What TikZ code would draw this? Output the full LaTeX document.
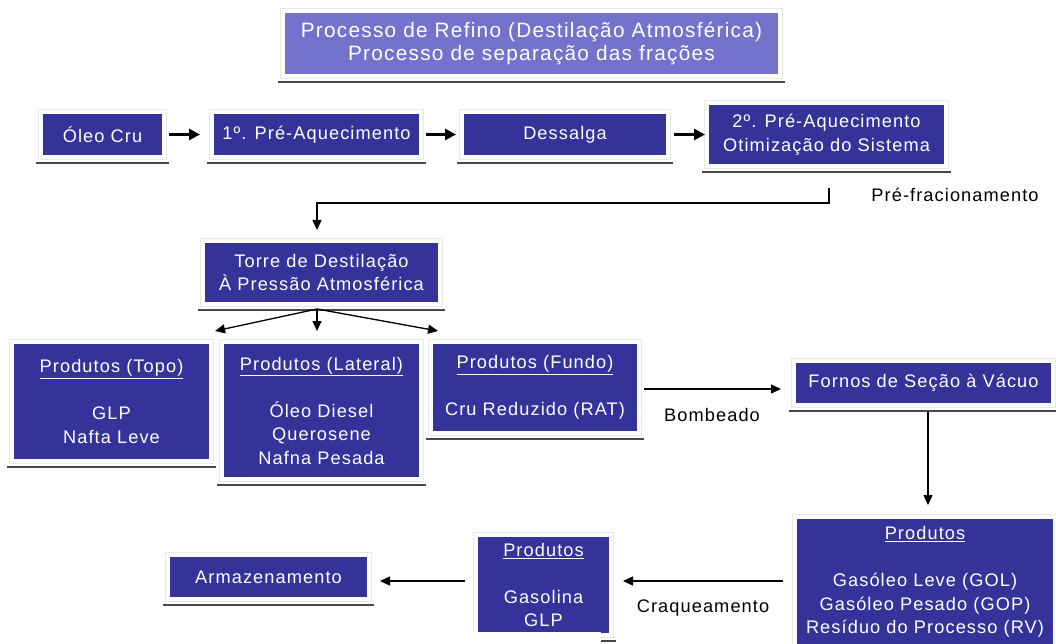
\documentclass[tikz,border=0pt]{standalone}
\usepackage{fontspec}
\setmainfont{Liberation Sans}[LetterSpace=6]
\usetikzlibrary{arrows.meta}
\definecolor{boxblue}{HTML}{333399}
\definecolor{titleblue}{HTML}{7373CC}
\definecolor{shadowgray}{HTML}{484848}
\begin{document}
\begin{tikzpicture}[x=1pt,y=-1pt,
  bx/.style={fill=boxblue, draw=white, line width=4pt,
    preaction={draw=gray!18, line width=5.2pt},
    text=white, align=center, inner sep=0pt,
    font=\fontsize{18.2}{23.5}\selectfont},
  titlebox/.style={bx, fill=titleblue, font=\fontsize{20.8}{22.5}\selectfont},
  lbl/.style={text=black, inner sep=0pt, font=\fontsize{18.2}{23.5}\selectfont},
  shad/.style={draw=shadowgray, line width=2.5pt},
  thickarr/.style={line width=2.7pt, -{Triangle[length=11pt,width=11pt]}},
  thinarr/.style={line width=1.3pt, -{Triangle[length=10pt,width=9pt]}}
]
\useasboundingbox (0,0) rectangle (1056,644);
\clip (0,0) rectangle (1056,644);
\fill[white] (0,0) rectangle (1056,644);

% boxes
\node[titlebox, minimum width=497pt, minimum height=65pt] (title) at (531.5,43.5)
  {Processo de Refino (Destilação Atmosférica)\\Processo de separação das frações};
\node[bx, minimum width=123pt, minimum height=45pt] (oleo) at (102.5,134.5) {Óleo Cru};
\node[bx, minimum width=209pt, minimum height=45pt] (pre1) at (316.5,134.5) {1º. Pré-Aquecimento};
\node[bx, minimum width=206pt, minimum height=45pt] (dess) at (565,134.5) {Dessalga};
\node[bx, minimum width=239pt, minimum height=63pt] (pre2) at (826.5,134.5) {2º. Pré-Aquecimento\\Otimização do Sistema};
\node[bx, minimum width=237pt, minimum height=63pt] (torre) at (321.5,272.5) {Torre de Destilação\\À Pressão Atmosférica};
\node[bx, minimum width=199pt, minimum height=119pt] (topo) at (111.5,401.5)
  {\underline{Produtos (Topo)}\\[23.5pt]GLP\\Nafta Leve};
\node[bx, minimum width=199pt, minimum height=137pt] (lat) at (321.5,410.5)
  {\underline{Produtos (Lateral)}\\[23.5pt]Óleo Diesel\\Querosene\\Nafna Pesada};
\node[bx, minimum width=208pt, minimum height=91pt] (fundo) at (535,387.5)
  {\underline{Produtos (Fundo)}\\[23.5pt]Cru Reduzido (RAT)};
\node[bx, minimum width=259pt, minimum height=44pt] (fornos) at (923.5,383) {Fornos de Seção à Vácuo};
\node[bx, minimum width=260pt, minimum height=130pt] (prodR) at (925,582)
  {\underline{Produtos}\\[23.5pt]Gasóleo Leve (GOL)\\Gasóleo Pesado (GOP)\\Resíduo do Processo (RV)};
\node[bx, minimum width=135pt, minimum height=100pt] (prodM) at (543.5,585)
  {\underline{Produtos}\\[23.5pt]Gasolina\\GLP};
\node[bx, minimum width=201pt, minimum height=44pt] (armaz) at (268.5,577) {Armazenamento};

% shadows
\foreach \n in {title,oleo,pre1,dess,pre2,torre,topo,lat,fundo,fornos,prodM,armaz}
  \draw[shad] ([shift={(-3,4)}]\n.south west) -- ([shift={(3,4)}]\n.south east);
\fill[white] (470,632) rectangle (601,644);

% labels
\node[lbl] (lpf) at (955,195) {Pré-fracionamento};
\node[lbl] (lbomb) at (712,415) {Bombeado};
\node[lbl] (lcraq) at (703,608) {Craqueamento};

% connectors
\draw[thickarr] ([xshift=3pt]oleo.east) -- ([xshift=-10pt]pre1.west);
\draw[thickarr] ([xshift=3pt]pre1.east) -- ([xshift=-4pt]dess.west);
\draw[thickarr] ([xshift=4pt]dess.east) -- (pre2.west);

\coordinate (pf) at (829,188);
\draw[thinarr] (pf) -- ++(0,15) -| ([shift={(-4.5,-9)}]torre.north);

\coordinate (tb) at ([shift={(-4.5,3)}]torre.south);
\draw[thinarr] (tb) -- ([shift={(2,-9)}]topo.north east);
\draw[thinarr] (tb) -- ([shift={(-4.5,-9)}]lat.north);
\draw[thinarr] (tb) -- ([shift={(9,-9)}]fundo.north west);

\draw[thinarr] ([shift={(3,1.5)}]fundo.east) -- ([shift={(-11,6)}]fornos.west);
\draw[thinarr] ([shift={(4.5,5)}]fornos.south) -- ([shift={(3,-10)}]prodR.north);
\draw[thinarr] ([shift={(-10,-1)}]prodR.west) -- ([shift={(10,-4)}]prodM.east);
\draw[thinarr] ([shift={(-9,-4)}]prodM.west) -- ([shift={(9,4)}]armaz.east);
\end{tikzpicture}
\end{document}
